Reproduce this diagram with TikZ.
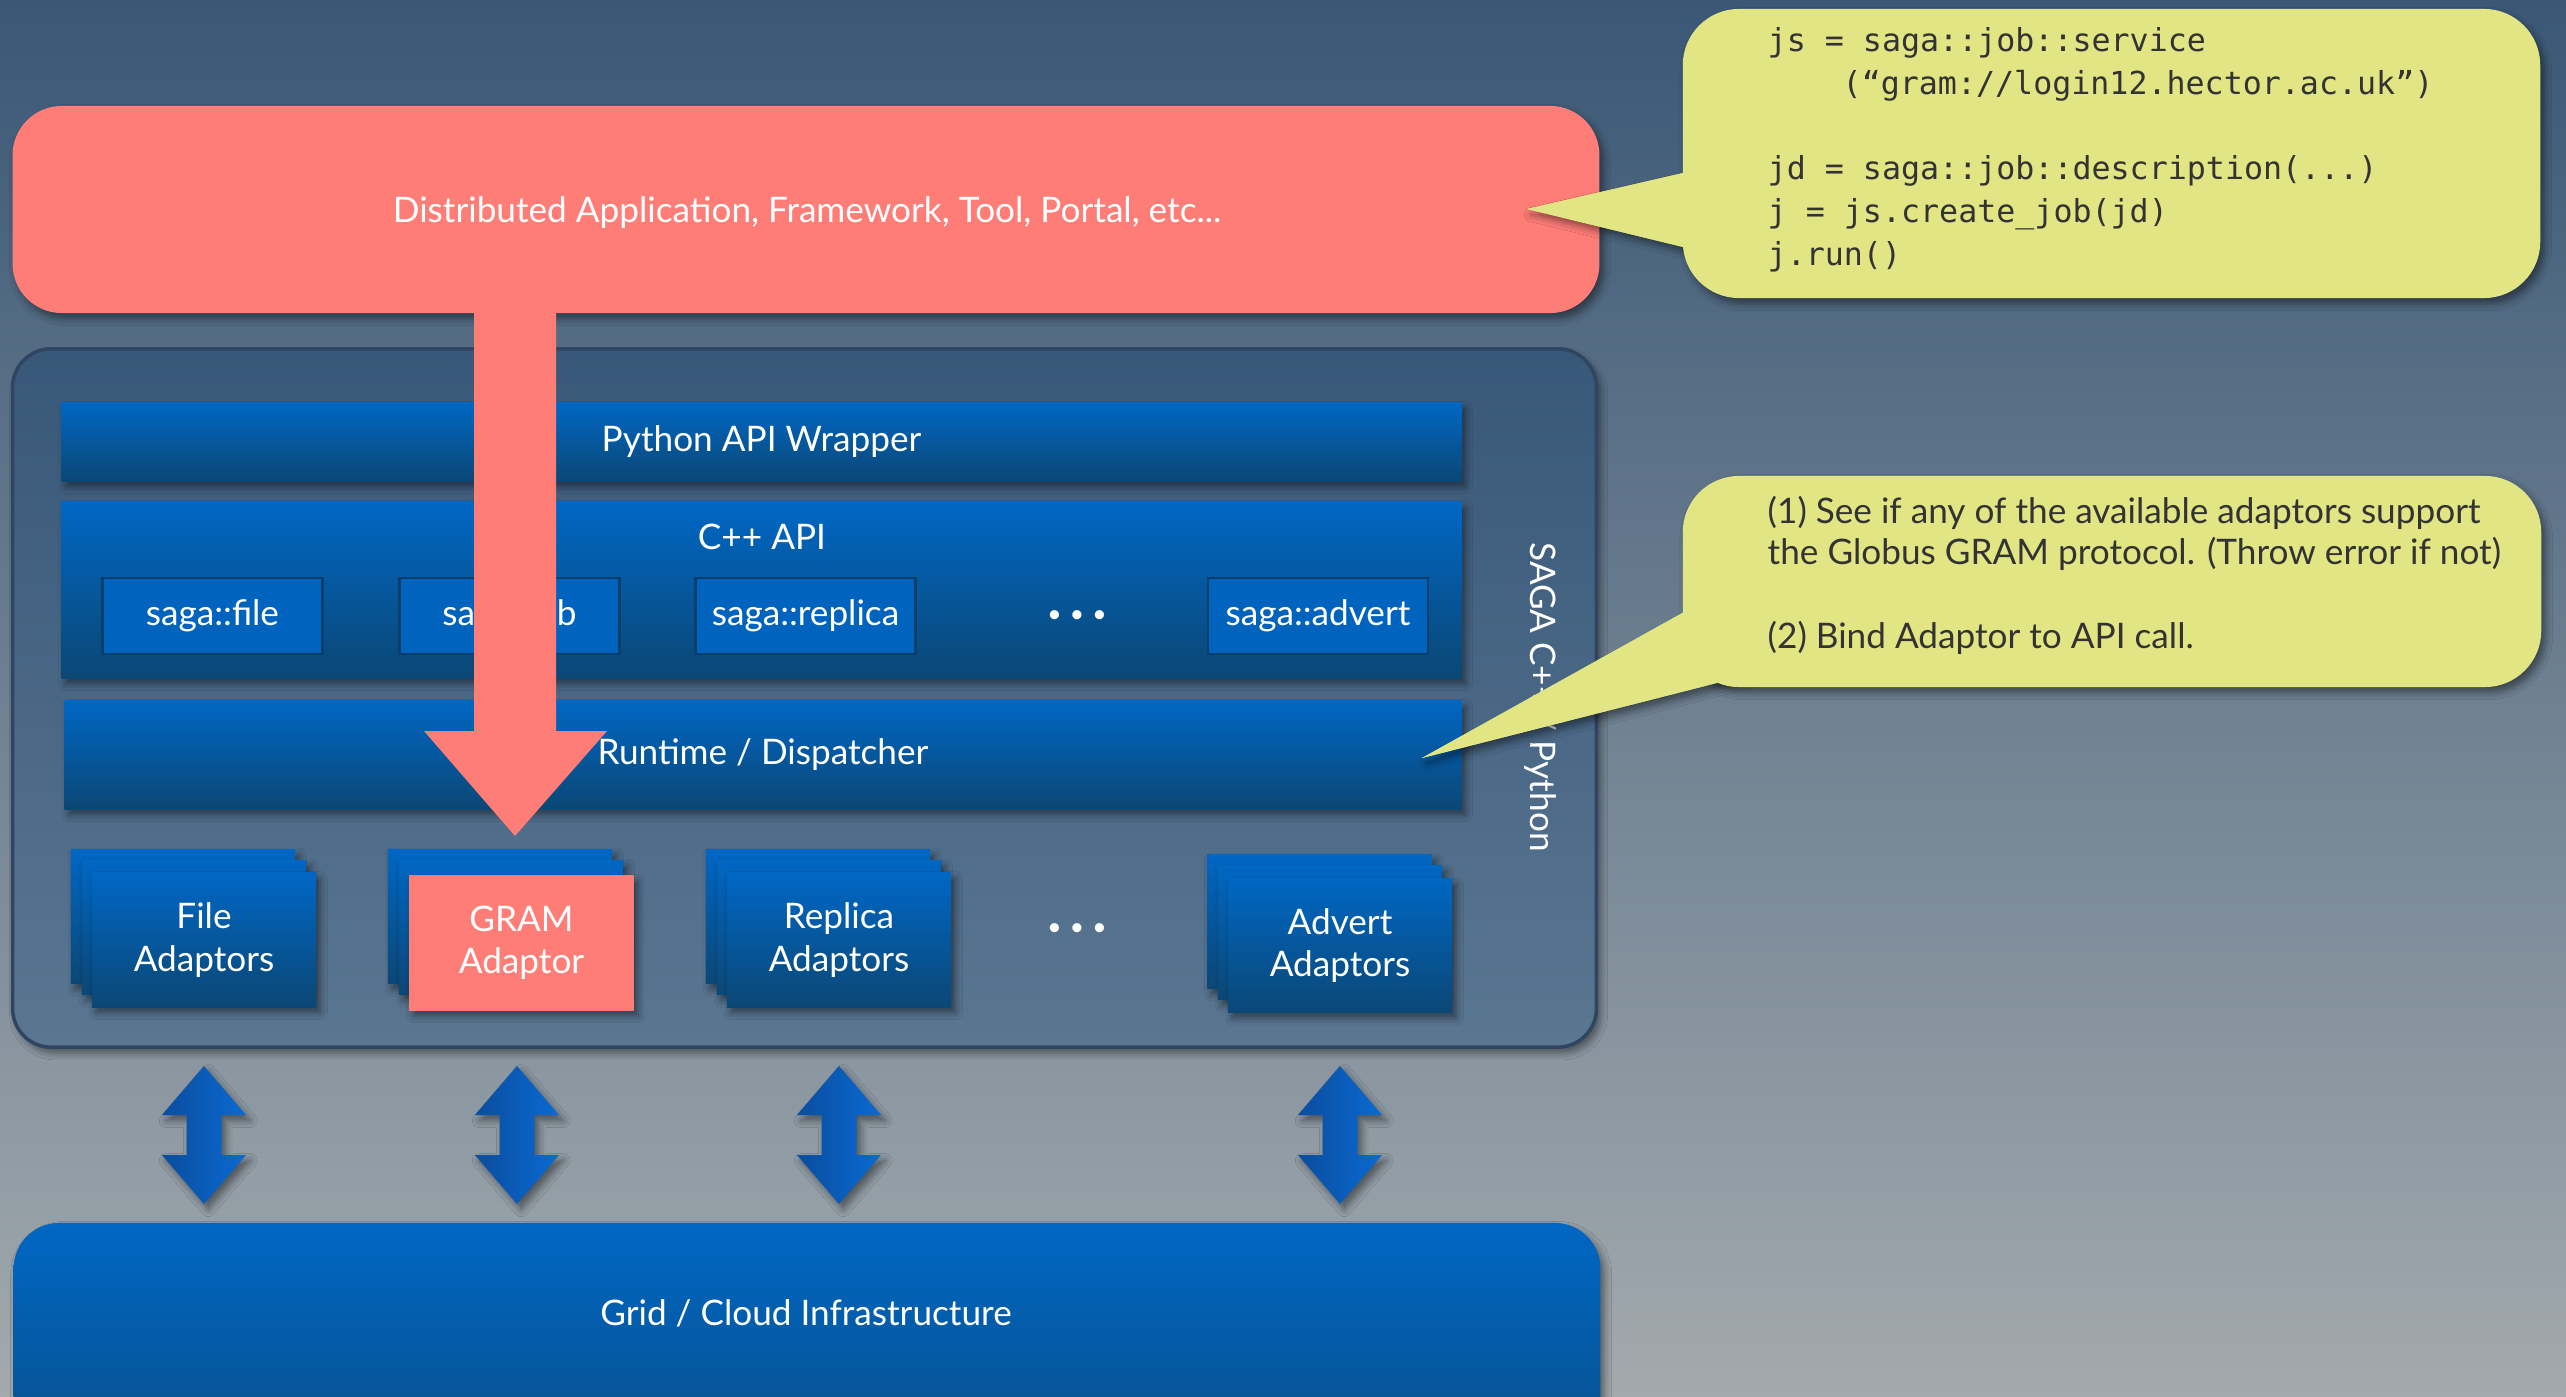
\documentclass[tikz,border=0pt]{standalone}
\usepackage{fontspec}
\setmainfont{Lato}
\newfontfamily\codefont{DejaVu Sans Mono}
\usetikzlibrary{shadows.blur}
\definecolor{bgtop}{HTML}{3A5775}
\definecolor{bgmid}{HTML}{6F8498}
\definecolor{bgbot}{HTML}{A3AAAE}
\definecolor{salmon}{HTML}{FF7D77}
\definecolor{bartop}{HTML}{0067C4}
\definecolor{barbot}{HTML}{0B4775}
\definecolor{sagabox}{HTML}{0063BE}
\definecolor{sagaedge}{HTML}{0A3F6C}
\definecolor{conttop}{HTML}{385879}
\definecolor{contbot}{HTML}{5A7691}
\definecolor{contedge}{HTML}{2F4560}
\definecolor{callout}{HTML}{E2E584}
\definecolor{calltext}{HTML}{333333}
\definecolor{arrleft}{HTML}{0A4D9E}
\definecolor{arrright}{HTML}{0A6AD2}
\tikzset{
  shad/.style={blur shadow={shadow xshift=1.2pt, shadow yshift=-1.6pt, shadow opacity=45, shadow blur radius=2pt}},
  lbl/.style={text=white, font=\fontsize{10}{12}\selectfont, align=center},
  bar/.style={rectangle, top color=bartop, bottom color=barbot, shad, inner sep=0pt},
  sagab/.style={rectangle, fill=sagabox, draw=sagaedge, line width=0.8pt, minimum width=2.2cm, minimum height=0.76cm, lbl},
  adap/.style={rectangle, top color=bartop, bottom color=barbot, shad, minimum width=2.24cm, minimum height=1.34cm, inner sep=0pt},
  code/.style={font=\codefont\fontsize{9}{11}\selectfont, text=calltext, inner sep=0pt, anchor=base west},
  ctext/.style={font=\fontsize{10}{12}\selectfont, text=calltext, inner sep=0pt, anchor=base west},
  dots/.style={text=white, font=\fontsize{7}{8}\selectfont},
  dblarr/.style={left color=arrleft, right color=arrright, shad},
}
\newcommand\dblarrow[1]{%
  \path[dblarr] (#1,1066) -- (#1+42,1115) -- (#1+17.5,1115) -- (#1+17.5,1155) -- (#1+42,1155)
    -- (#1,1204) -- (#1-42,1155) -- (#1-17.5,1155) -- (#1-17.5,1115) -- (#1-42,1115) -- cycle;}
\begin{document}
\begin{tikzpicture}[x=0.01cm,y=-0.01cm]
\clip (0,0) rectangle (2566,1397);
\fill[top color=bgtop, middle color=bgmid, bottom color=bgbot] (0,0) rectangle (2566,1397);

% application box
\node[rectangle, fill=salmon, rounded corners=14pt, minimum width=15.86cm, minimum height=2.07cm, shad] (apptop) at (806,209.5) {};
\node[lbl] (apptxt) at (807,213) {Distributed Application, Framework, Tool, Portal, etc...};

% SAGA container
\node[rectangle, top color=conttop, bottom color=contbot, draw=contedge, line width=1pt, rounded corners=11pt, minimum width=15.83cm, minimum height=6.98cm, shad] (saga) at (804.5,698) {};
\node[lbl, rotate=-90] (sagalbl) at (1540,697) {SAGA C++ / Python};

% layers
\node[bar, minimum width=13.99cm, minimum height=0.78cm, lbl] (py) at (761.5,442) {Python API Wrapper};
\node[bar, minimum width=13.99cm, minimum height=1.76cm] (cpp) at (761.5,590) {};
\node[lbl] (cpptxt) at (762,537) {C++ API};
\node[sagab] (sfile) at (212.5,616) {saga::file};
\node[sagab] (sjob) at (509.5,616) {saga::job};
\node[sagab] (srep) at (805.5,616) {saga::replica};
\node[sagab] (sadv) at (1318,616) {saga::advert};
\node[dots] (sdots) at (1077,617) {•\,\,•\,\,•};
\node[bar, minimum width=13.96cm, minimum height=1.08cm, lbl] (rt) at (763,755) {Runtime / Dispatcher};

% adaptors
\node[adap] (fileb) at (183,916.5) {};
\node[adap] (filem) at (194,927.5) {};
\node[adap, lbl] (filef) at (204,940) {File\\Adaptors};
\node[adap] (gramb) at (500,916.5) {};
\node[adap] (gramm) at (511,927.5) {};
\node[adap, fill=salmon, top color=salmon, bottom color=salmon, lbl] (gramf) at (521.5,943) {GRAM\\Adaptor};
\node[adap] (repb) at (818,916.5) {};
\node[adap] (repm) at (829,927.5) {};
\node[adap, lbl] (repf) at (839,940) {Replica\\Adaptors};
\node[adap] (advb) at (1319.5,921.5) {};
\node[adap] (advm) at (1330,932.5) {};
\node[adap, lbl] (advf) at (1340,945.5) {Advert\\Adaptors};
\node[dots] (adots) at (1077,930) {•\,\,•\,\,•};

% red arrow from application to GRAM adaptor
\coordinate (ra) at (515,300);
\coordinate (rb) at (515,836);
\fill[salmon] (474,300) -- (556,300) -- (556,731) -- (607,731) -- (rb) -- (424,731) -- (474,731) -- cycle;

% double arrows
\dblarrow{204}
\dblarrow{517}
\dblarrow{839}
\dblarrow{1340}

% grid box
\node[rectangle, top color=bartop, bottom color=barbot, rounded corners=13pt, minimum width=15.86cm, minimum height=3.2cm, shad] (grid) at (807,1383) {};
\node[lbl] (gridtxt) at (806,1313) {Grid / Cloud Infrastructure};

% callout 1
\path[fill=callout, shad] (1527,209) -- (1720,164.5) -- (1720,256) -- cycle;
\node[rectangle, fill=callout, rounded corners=16pt, minimum width=8.57cm, minimum height=2.89cm, shad] (call1) at (2111.5,153.5) {};
\fill[callout] (1527,209) -- (1720,164.5) -- (1720,256) -- cycle;
\node[code] (c1) at (1767,52) {js = saga::job::service};
\node[code] (c2) at (1842,95) {(“gram://login12.hector.ac.uk”)};
\node[code] (c3) at (1767,180) {jd = saga::job::description(...)};
\node[code] (c4) at (1767,222) {j = js.create\_job(jd)};
\node[code] (c5) at (1767,265) {j.run()};

% callout 2
\path[fill=callout, shad] (1422,758) -- (1720,592) -- (1760,672) -- cycle;
\node[rectangle, fill=callout, rounded corners=16pt, minimum width=8.58cm, minimum height=2.11cm, shad] (call2) at (2112,581.5) {};
\fill[callout] (1422,758) -- (1720,592) -- (1760,672) -- cycle;
\node[ctext] (t1) at (1767,523) {(1) See if any of the available adaptors support};
\node[ctext] (t2) at (1767,564) {the Globus GRAM protocol. (Throw error if not)};
\node[ctext] (t3) at (1767,648) {(2) Bind Adaptor to API call.};
\end{tikzpicture}
\end{document}
